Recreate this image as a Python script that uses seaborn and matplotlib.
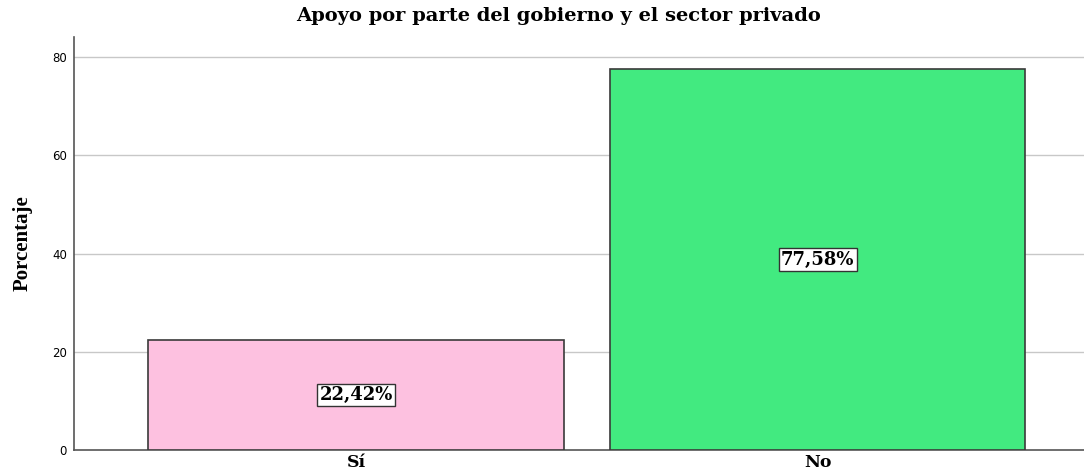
import matplotlib
matplotlib.use("Agg")
import matplotlib.pyplot as plt
import seaborn as sns

# ── Data ──────────────────────────────────────────────
categories = ["Sí", "No"]
percentages = [22.42, 77.58]
bar_labels = ["22,42%", "77,58%"]
yticks = [0, 20, 40, 60, 80]

BAR_COLORS = ["#FDC1E0", "#42EA80"]
EDGE = "#3a3a3a"
WIDE_SERIF = ["DejaVu Serif"]
NARROW_SERIF = ["Liberation Serif", "DejaVu Serif"]

sns.set_style("white")
plt.rcParams["text.color"] = "black"

fig = plt.figure(figsize=(10.84, 4.75), dpi=100)
ax = fig.add_axes([0.0683, 0.0526, 0.9317, 0.8695])

sns.barplot(x=categories, y=percentages, hue=categories, palette=BAR_COLORS,
            legend=False, width=0.9, edgecolor=EDGE, linewidth=1.2,
            saturation=1, ax=ax, zorder=3)

ax.set_ylim(0, 84.1)
ax.set_xlim(-0.611, 1.577)
ax.set_yticks(yticks)
ax.set_yticklabels([str(t) for t in yticks], fontsize=8.5,
                   family=["DejaVu Sans"], color="black")
ax.tick_params(axis="y", length=0, pad=5)
ax.tick_params(axis="x", length=0, pad=3)
for lbl in ax.get_xticklabels():
    lbl.set_fontfamily(WIDE_SERIF)
    lbl.set_fontsize(12.5)
    lbl.set_fontweight("bold")
    lbl.set_color("black")

for t in yticks[1:]:
    ax.axhline(t, color="#c8c8c8", linewidth=1, zorder=1)

for side in ["top", "right"]:
    ax.spines[side].set_visible(False)
for side in ["left", "bottom"]:
    ax.spines[side].set_color("#555555")
    ax.spines[side].set_linewidth(1.2)

ax.set_xlabel("")
ax.set_ylabel("Porcentaje", fontsize=15, fontweight="bold",
              family=NARROW_SERIF, labelpad=14, color="black")

for i, (v, txt) in enumerate(zip(percentages, bar_labels)):
    ax.text(i, v / 2, txt, ha="center", va="center", fontsize=13,
            fontweight="bold", family=WIDE_SERIF, color="black", zorder=5,
            bbox=dict(boxstyle="square,pad=0.12", facecolor="white",
                      edgecolor="#333333", linewidth=1))

fig.suptitle("Apoyo por parte del gobierno y el sector privado",
             x=0.515, y=0.985, fontsize=14, fontweight="bold",
             family=WIDE_SERIF, color="black")

fig.savefig("out.png", dpi=100, facecolor="white")
